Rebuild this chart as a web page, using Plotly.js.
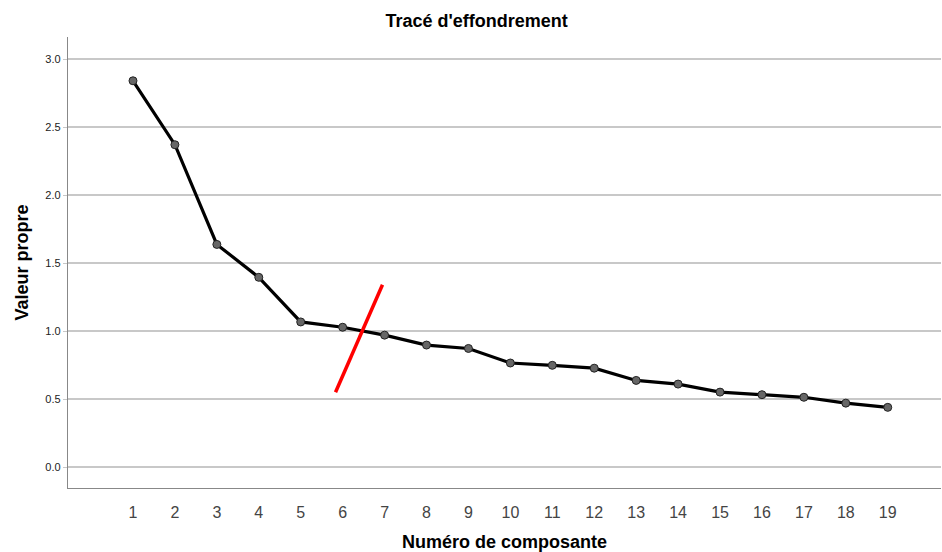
<!DOCTYPE html>
<html>
<head>
<meta charset="utf-8">
<script src="https://cdn.plot.ly/plotly-3.0.1.min.js"></script>
<style>html,body{margin:0;padding:0;background:#fff;}#chart{width:942px;height:552px;}</style>
</head>
<body>
<div id="chart"></div>
<script>
const components = [1,2,3,4,5,6,7,8,9,10,11,12,13,14,15,16,17,18,19];
const eigenvalues = [2.84,2.37,1.637,1.395,1.067,1.028,0.97,0.897,0.872,0.765,0.748,0.727,0.637,0.61,0.551,0.532,0.513,0.47,0.439];
const cutLineX = [5.83,6.95];
const cutLineY = [0.55,1.34];
const yTicks = [0,0.5,1,1.5,2,2.5,3];
const yTickLabels = ["0.0","0.5","1.0","1.5","2.0","2.5","3.0"];

const traces = [
  {x: components, y: eigenvalues, type: 'scatter', mode: 'lines+markers',
   line: {color: '#000', width: 3.2},
   marker: {color: '#666', size: 8, line: {color: '#222', width: 1}},
   hoverinfo: 'skip', showlegend: false},
  {x: cutLineX, y: cutLineY, type: 'scatter', mode: 'lines',
   line: {color: '#ff0000', width: 3.5}, hoverinfo: 'skip', showlegend: false}
];

const layout = {
  width: 942, height: 552,
  margin: {l: 68, r: 1, t: 37, b: 64, pad: 0},
  paper_bgcolor: '#fff', plot_bgcolor: '#fff',
  font: {family: 'Liberation Sans, Arial, sans-serif', color: '#000'},
  title: {text: "<b>Tracé d'effondrement</b>", font: {size: 18, color: '#000'}, x: 0.506, xanchor: 'center', y: 0.962, yanchor: 'middle'},
  xaxis: {
    range: [-0.55, 20.27], tickvals: components, ticktext: components.map(String),
    showgrid: false, zeroline: false, showline: true, linecolor: '#888', linewidth: 1.2,
    ticks: '', tickfont: {size: 16, color: '#444'}, ticklabelstandoff: 10,
    title: {text: '<b>Numéro de composante</b>', font: {size: 18, color: '#000'}, standoff: 22},
    mirror: false
  },
  yaxis: {
    range: [-0.154, 3.162], tickvals: yTicks, ticktext: yTickLabels,
    showgrid: true, gridcolor: '#c8c8c8', gridwidth: 1.3, zeroline: false,
    showline: true, linecolor: '#888', linewidth: 1.2,
    ticks: 'outside', ticklen: 4, tickcolor: '#c8c8c8',
    tickfont: {size: 11, color: '#222'},
    title: {text: '<b>Valeur propre</b>', font: {size: 18, color: '#000'}, standoff: 12}
  }
};

Plotly.newPlot('chart', traces, layout, {staticPlot: true, displayModeBar: false});
</script>
</body>
</html>
